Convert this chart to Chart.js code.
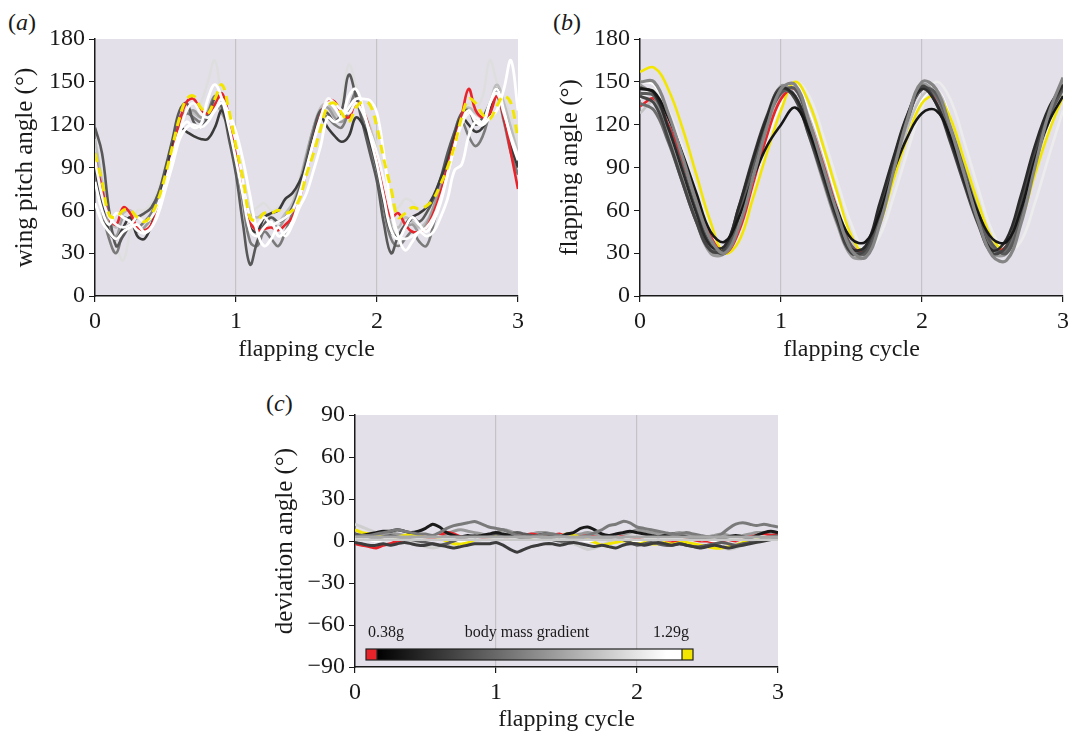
<!DOCTYPE html>
<html>
<head>
<meta charset="utf-8">
<script src="https://cdn.jsdelivr.net/npm/chart.js@4.4.1/dist/chart.umd.min.js"></script>
<style>
  body { margin: 0; background: #fff; width: 1068px; height: 734px; overflow: hidden; position: relative; font-family: "Liberation Serif", "DejaVu Serif", serif; }
  canvas { position: absolute; }
  .tag { position: absolute; font-size: 24px; color: #1a1a1a; }
</style>
</head>
<body>
<span class="tag" style="left:8px;top:9px">(<i>a</i>)</span>
<span class="tag" style="left:553px;top:9px">(<i>b</i>)</span>
<span class="tag" style="left:266px;top:390px">(<i>c</i>)</span>
<canvas id="chartA" width="534" height="370" style="left:0;top:0"></canvas>
<canvas id="chartB" width="534" height="370" style="left:545px;top:0"></canvas>
<canvas id="chartC" width="534" height="354" style="left:260px;top:380px"></canvas>
<script>
// x positions (flapping cycle)
const cycFine = [0,0.05,0.1,0.15,0.2,0.25,0.3,0.35,0.4,0.45,0.5,0.55,0.6,0.65,0.7,0.75,0.8,0.85,0.9,0.95,
  1,1.05,1.1,1.15,1.2,1.25,1.3,1.35,1.4,1.45,1.5,1.55,1.6,1.65,1.7,1.75,1.8,1.85,1.9,1.95,
  2,2.05,2.1,2.15,2.2,2.25,2.3,2.35,2.4,2.45,2.5,2.55,2.6,2.65,2.7,2.75,2.8,2.85,2.9,2.95,3];
const cycCoarse = [0,0.1,0.2,0.3,0.4,0.5,0.6,0.7,0.8,0.9,1,1.1,1.2,1.3,1.4,1.5,1.6,1.7,1.8,1.9,2,2.1,2.2,2.3,2.4,2.5,2.6,2.7,2.8,2.9,3];

const cycleTicks = [0, 1, 2, 3];
const angleTicks = [0, 30, 60, 90, 120, 150, 180];
const devTicks = [-90, -60, -30, 0, 30, 60, 90];

// (a) wing pitch angle
const pitchRed = [95,75,55,50,62,58,48,46,50,62,80,100,122,136,138,130,128,134,142,125,
  100,75,52,46,47,48,46,50,55,68,88,108,126,137,136,128,125,135,130,115,
  95,72,55,58,50,45,45,48,58,72,90,108,126,145,130,125,128,140,125,100,75];
const pitchYellow = [100,80,57,55,60,60,55,52,57,68,85,105,125,138,140,132,128,138,148,130,
  105,82,55,53,58,58,60,58,60,68,85,100,117,133,135,128,122,132,136,134,
  118,95,75,55,58,62,61,63,68,78,90,105,125,138,135,127,124,133,140,135,110];
const pitchBlack = [90,65,45,40,48,55,42,40,50,65,85,105,118,115,112,110,110,118,130,115,
  95,70,48,45,55,58,60,68,72,80,92,110,125,118,112,108,112,125,120,108,
  90,65,45,42,48,55,58,62,70,82,95,112,125,120,115,118,128,145,125,105,90];
const pitchDark = [118,100,60,35,42,50,55,58,62,72,90,110,130,135,122,118,125,138,132,110,
  85,50,22,38,50,55,52,55,62,75,95,115,130,128,122,130,155,140,120,100,
  80,50,30,42,50,55,52,58,68,82,100,115,128,130,120,125,135,145,128,105,92];
const pitchGrey = [85,60,40,30,45,50,48,52,58,70,88,108,125,128,125,122,128,140,135,115,
  95,65,38,35,45,40,35,45,58,75,95,115,128,125,120,118,130,142,125,105,
  88,60,40,35,40,45,38,35,50,70,92,110,122,112,105,112,128,140,122,100,85];
const pitchMid = [100,75,50,42,55,52,45,48,55,68,85,105,122,128,130,125,125,135,128,118,
  100,72,48,42,50,52,48,55,62,78,98,118,130,132,125,122,128,138,128,112,
  95,70,48,42,48,50,45,50,62,78,95,112,125,128,125,120,130,142,130,112,95];
const pitchLight = [110,80,55,48,58,60,55,58,62,72,88,108,125,130,128,125,130,140,132,120,
  105,80,58,55,58,55,52,58,65,80,100,118,132,135,128,125,132,140,130,118,
  100,75,52,48,55,52,48,52,62,78,96,115,128,132,128,125,135,148,135,118,100];
const pitchPale = [105,85,55,35,25,45,60,60,65,75,92,110,125,130,128,135,150,165,140,128,
  115,88,60,62,65,60,62,66,70,82,100,118,130,135,130,138,162,148,132,120,
  105,80,62,62,68,66,60,58,65,78,95,112,128,135,132,140,165,150,138,125,105];
const pitchWhite1 = [65,52,45,40,45,48,50,45,48,58,75,92,110,118,120,118,122,130,135,128,
  115,95,70,45,35,40,48,42,50,62,72,88,105,125,122,125,132,138,138,137,
  128,98,62,42,32,38,45,42,45,55,68,88,92,112,122,120,125,130,145,165,130];
const pitchWhite2 = [80,60,50,58,55,52,46,44,48,60,78,98,115,122,118,120,138,148,138,118,
  95,70,46,42,48,52,42,45,52,68,88,108,125,135,132,125,140,145,132,112,
  92,68,46,40,48,55,50,45,52,65,85,105,122,130,122,120,135,145,130,110,95];
const pitchWhite3 = [95,70,55,50,48,50,55,52,55,65,80,98,115,130,135,128,125,130,138,125,
  108,80,55,50,55,50,52,55,60,72,90,108,124,138,135,130,128,135,128,115,
  100,80,58,42,40,42,45,48,55,68,85,105,120,128,125,122,135,142,128,112,98];

// (b) flapping angle
const flapYellow = [157,160,145,118,85,52,30,38,68,100,130,150,135,105,72,42,30,50,82,112,135,140,125,95,65,40,32,52,85,115,140];
const flapRed = [133,138,120,95,68,42,30,45,78,112,138,145,122,92,60,35,32,60,95,125,145,138,115,85,55,33,35,65,100,130,148];
const flapBlack = [145,143,125,100,72,45,38,55,82,105,120,132,115,88,60,40,38,58,88,112,128,130,112,85,58,40,38,60,95,122,140];
const flapBlack2 = [146,142,118,88,58,35,35,62,95,125,145,140,115,85,55,33,35,65,98,128,145,135,110,80,52,32,40,70,105,132,148];
const flapDark = [140,135,110,80,52,32,33,62,96,126,146,138,112,82,52,30,33,62,96,127,147,135,108,78,50,30,35,66,100,130,147];
const flapDark2 = [142,140,118,90,60,36,30,55,90,122,142,145,120,90,58,35,30,55,92,125,145,142,118,88,58,36,30,55,92,125,145];
const flapGrey = [135,130,108,80,52,32,32,58,92,122,143,140,115,85,55,32,30,58,93,125,145,140,115,85,55,33,32,60,95,128,148];
const flapMid = [150,150,128,98,66,40,30,48,82,118,145,148,122,90,58,32,27,50,88,125,150,145,118,85,52,28,25,50,90,128,153];
const flapMid2 = [148,140,112,82,52,30,30,55,90,123,147,140,112,80,50,28,28,55,90,123,148,140,112,82,52,30,30,58,95,128,150];
const flapLight = [128,136,118,92,62,38,32,52,85,118,140,146,125,95,62,38,32,52,85,118,140,145,122,92,60,36,35,58,90,122,142];
const flapPale = [138,145,130,105,75,48,32,42,72,105,135,150,140,112,80,50,32,42,70,102,132,150,138,108,75,45,32,38,65,98,130];
const flapWhite = [150,148,128,100,70,45,33,48,78,110,135,148,128,98,66,40,32,50,82,115,138,145,125,95,64,40,35,55,88,120,140];

// (c) deviation angle
const devRed = [-2,-3,-4,-5,-3,-2,0,1,2,2,3,2,4,6,5,3,2,1,2,3,
  2,1,2,3,4,5,4,3,4,5,3,2,3,4,3,2,3,4,3,2,
  2,1,2,2,1,0,1,2,1,0,0,-1,0,1,0,2,3,4,5,4,5];
const devYellow = [8,6,5,3,3,2,3,4,5,4,3,2,2,0,-2,-2,-1,1,2,3,
  3,2,3,2,2,1,2,3,4,3,5,4,3,1,-1,-3,-2,-1,0,0,
  0,-1,-2,-2,-1,-1,0,-1,-2,-3,-4,-5,-5,-4,-3,-1,1,2,3,3,3];
const devBlack = [3,4,5,6,7,7,8,7,6,7,9,12,10,6,4,3,4,3,4,5,
  6,5,4,3,2,3,4,5,4,3,5,6,9,10,8,5,4,5,6,7,
  6,5,4,3,4,5,4,3,2,1,2,3,2,3,4,3,2,4,6,7,6];
const devTop = [3,4,4,5,6,7,8,7,6,5,5,4,6,9,11,12,13,14,12,10,
  9,8,6,4,3,3,4,5,5,4,3,2,3,4,6,8,11,12,14,13,
  10,9,8,7,6,5,5,6,5,4,3,3,5,9,12,13,12,11,12,11,10];
const devLow = [-1,-2,-3,-3,-2,-3,-2,-1,-2,-3,-3,-2,-3,-4,-5,-4,-3,-2,-2,-2,
  -1,-3,-6,-8,-6,-4,-3,-2,-2,-3,-2,-1,-2,-3,-4,-3,-4,-5,-3,-2,
  -2,-3,-2,-1,-2,-3,-2,-3,-4,-5,-4,-3,-4,-5,-4,-3,-2,-1,0,1,2];
const devDark = [5,4,3,2,3,4,3,2,1,0,-1,-2,-3,-2,0,2,3,4,3,4,
  5,4,5,6,5,4,3,2,1,0,0,1,2,3,2,1,2,3,1,-1,
  -3,-2,-1,-2,-3,-3,-2,-3,-4,-4,-3,-2,-1,-2,-3,-2,-1,0,2,3,4];
const devMid = [4,3,2,3,5,6,5,4,3,2,1,2,3,5,7,8,7,6,5,4,
  6,8,7,5,4,5,6,6,5,4,3,4,5,6,5,4,3,4,5,6,
  8,7,6,5,4,5,6,5,4,3,3,4,5,4,3,4,5,6,6,5,4];
const devLight = [12,10,8,6,4,3,2,1,0,-2,-4,-5,-4,-3,-2,-2,-1,0,1,3,
  5,6,5,4,3,3,2,2,1,0,-1,-2,-4,-6,-5,-3,-1,2,4,5,
  7,8,7,6,5,4,3,3,2,1,0,-2,-4,-6,-5,-3,-1,0,1,2,2];
const devWhite = [2,1,1,0,1,2,3,2,1,2,3,4,3,2,1,0,1,2,3,3,
  2,1,1,2,3,3,2,2,3,4,3,2,1,0,1,2,3,3,2,1,
  0,1,2,2,1,1,2,3,2,1,1,0,1,2,1,1,2,3,3,2,2];
const devMean1 = [3,3,3,3,3,3,3,3,3,3,3,3,3,3,3,3,3,3,3,3,
  3,3,3,3,3,3,3,3,3,3,3,3,3,3,3,3,3,3,3,3,
  3,3,3,3,3,3,3,3,3,3,3,3,3,3,3,3,3,3,3,3,3];
const devMean2 = [1,1,1,1,1,1,1,1,1,1,1,1,1,1,1,1,1,1,1,1,
  1,1,1,1,1,1,1,1,1,1,1,1,1,1,1,1,1,1,1,1,
  1,1,1,1,1,1,1,1,1,1,1,1,1,1,1,1,1,1,1,1,1];

const FONT = 'Liberation Serif';
const INK = '#1a1a1a';
const PLOT_BG = '#e4e0e9';

function pts(xs, ys) {
  return xs.map((x, i) => ({ x: x, y: ys[i] }));
}

function line(xs, ys, color, extra) {
  return Object.assign({
    data: pts(xs, ys),
    borderColor: color,
    borderWidth: 2.6,
    pointRadius: 0,
    tension: 0.4,
    fill: false
  }, extra || {});
}

const plotBackground = {
  id: 'plotBackground',
  beforeDraw(chart) {
    const a = chart.chartArea;
    const ctx = chart.ctx;
    ctx.save();
    ctx.fillStyle = PLOT_BG;
    ctx.fillRect(a.left, a.top, a.right - a.left, a.bottom - a.top);
    ctx.restore();
  }
};

// colour bar legend for body mass, drawn inside panel (c)
const massBar = {
  id: 'massBar',
  afterDatasetsDraw(chart) {
    const a = chart.chartArea;
    const ctx = chart.ctx;
    const x0 = a.left + 11, w = 327, y0 = a.bottom - 18, h = 11;
    ctx.save();
    const g = ctx.createLinearGradient(x0 + 11, 0, x0 + w - 11, 0);
    g.addColorStop(0, '#000');
    g.addColorStop(0.95, '#fff');
    g.addColorStop(1, '#fff');
    ctx.fillStyle = g;
    ctx.fillRect(x0 + 11, y0, w - 22, h);
    ctx.fillStyle = '#e8242a';
    ctx.fillRect(x0, y0, 11, h);
    ctx.fillStyle = '#f3e600';
    ctx.fillRect(x0 + w - 11, y0, 11, h);
    ctx.strokeStyle = '#222';
    ctx.lineWidth = 1.2;
    ctx.strokeRect(x0, y0, w, h);
    ctx.beginPath();
    ctx.moveTo(x0 + 11, y0); ctx.lineTo(x0 + 11, y0 + h);
    ctx.moveTo(x0 + w - 11, y0); ctx.lineTo(x0 + w - 11, y0 + h);
    ctx.stroke();
    ctx.fillStyle = INK;
    ctx.font = '16px "' + FONT + '"';
    ctx.textBaseline = 'middle';
    ctx.textAlign = 'left';
    ctx.fillText('0.38g', x0 + 2, y0 - 16);
    ctx.textAlign = 'center';
    ctx.fillText('body mass gradient', x0 + 161, y0 - 16);
    ctx.fillText('1.29g', x0 + 305, y0 - 16);
    ctx.restore();
  }
};

function makeChart(id, datasets, yTicks, yTitle, layout, plugins) {
  const yMin = yTicks[0], yMax = yTicks[yTicks.length - 1];
  return new Chart(document.getElementById(id), {
    type: 'line',
    data: { datasets: datasets },
    options: {
      responsive: false,
      animation: false,
      events: [],
      layout: { padding: layout.padding },
      plugins: { legend: { display: false }, tooltip: { enabled: false } },
      scales: {
        x: {
          type: 'linear',
          min: 0, max: 3,
          afterBuildTicks: s => { s.ticks = cycleTicks.map(v => ({ value: v })); },
          afterFit: s => { s.height = layout.xHeight; },
          ticks: { color: INK, font: { family: FONT, size: 24 }, padding: 5, maxRotation: 0 },
          grid: {
            color: c => (c.tick && (c.tick.value === 1 || c.tick.value === 2)) ? '#c3c3c8' : 'rgba(0,0,0,0)',
            lineWidth: 1.2,
            tickColor: INK,
            tickLength: 6
          },
          border: { color: INK, width: 1.5 },
          title: { display: true, text: 'flapping cycle', color: INK, font: { family: FONT, size: 24 }, padding: { top: 0, bottom: layout.xTitlePad } }
        },
        y: {
          min: yMin, max: yMax,
          afterBuildTicks: s => { s.ticks = yTicks.map(v => ({ value: v })); },
          afterFit: s => { s.width = 95; },
          ticks: {
            color: INK, font: { family: FONT, size: 24 }, padding: 4,
            callback: v => String(v).replace('-', '\u2212')
          },
          grid: { drawOnChartArea: false, tickColor: INK, tickLength: 6 },
          border: { color: INK, width: 1.5 },
          title: { display: true, text: yTitle, color: INK, font: { family: FONT, size: 25 }, padding: { top: 10, bottom: 0 } }
        }
      }
    },
    plugins: [plotBackground].concat(plugins || [])
  });
}

// first dataset is drawn on top
makeChart('chartA', [
  line(cycFine, pitchYellow, '#f2e600', { borderDash: [9, 6], borderWidth: 3 }),
  line(cycFine, pitchWhite1, '#ffffff', { borderWidth: 2.8 }),
  line(cycFine, pitchWhite2, '#ffffff', { borderWidth: 2.8 }),
  line(cycFine, pitchWhite3, '#fafafa', { borderWidth: 2.8 }),
  line(cycFine, pitchRed, '#e8242a'),
  line(cycFine, pitchBlack, '#3a3a3a'),
  line(cycFine, pitchDark, '#585858'),
  line(cycFine, pitchGrey, '#7a7a7a'),
  line(cycFine, pitchMid, '#9c9c9c'),
  line(cycFine, pitchLight, '#bdbdbd'),
  line(cycFine, pitchPale, '#dedede')
], angleTicks, 'wing pitch angle (°)', { padding: { top: 39, right: 16 }, xHeight: 74, xTitlePad: 6 });

makeChart('chartB', [
  line(cycCoarse, flapMid, '#858585', { borderWidth: 3.2 }),
  line(cycCoarse, flapBlack, '#161616'),
  line(cycCoarse, flapBlack2, '#2a2a2a'),
  line(cycCoarse, flapDark, '#454545', { borderWidth: 3 }),
  line(cycCoarse, flapDark2, '#5a5a5a', { borderWidth: 3 }),
  line(cycCoarse, flapGrey, '#6c6c6c', { borderWidth: 3 }),
  line(cycCoarse, flapMid2, '#999999', { borderWidth: 3 }),
  line(cycCoarse, flapRed, '#e8242a'),
  line(cycCoarse, flapYellow, '#f2e600'),
  line(cycCoarse, flapLight, '#c4c4c4'),
  line(cycCoarse, flapWhite, '#ffffff'),
  line(cycCoarse, flapPale, '#ececec')
], angleTicks, 'flapping angle (°)', { padding: { top: 39, right: 16 }, xHeight: 74, xTitlePad: 6 });

makeChart('chartC', [
  line(cycFine, devMean1, '#a8a8a8', { tension: 0 }),
  line(cycFine, devMean2, '#c8c8c8', { tension: 0 }),
  line(cycFine, devTop, '#7a7a7a', { tension: 0.2, borderWidth: 3 }),
  line(cycFine, devBlack, '#1a1a1a', { tension: 0.2, borderWidth: 3 }),
  line(cycFine, devLow, '#3c3c3c', { tension: 0.2, borderWidth: 3 }),
  line(cycFine, devDark, '#5c5c5c', { tension: 0.2, borderWidth: 3 }),
  line(cycFine, devWhite, '#ffffff', { tension: 0.2, borderWidth: 3 }),
  line(cycFine, devRed, '#e8242a', { tension: 0.2, borderWidth: 3 }),
  line(cycFine, devYellow, '#f2e600', { tension: 0.2, borderWidth: 3 }),
  line(cycFine, devMid, '#999999', { tension: 0.2, borderWidth: 3 }),
  line(cycFine, devLight, '#cfcfcf', { tension: 0.2, borderWidth: 3 })
], devTicks, 'deviation angle (°)', { padding: { top: 35, right: 16 }, xHeight: 67, xTitlePad: 0 }, [massBar]);
</script>
</body>
</html>
